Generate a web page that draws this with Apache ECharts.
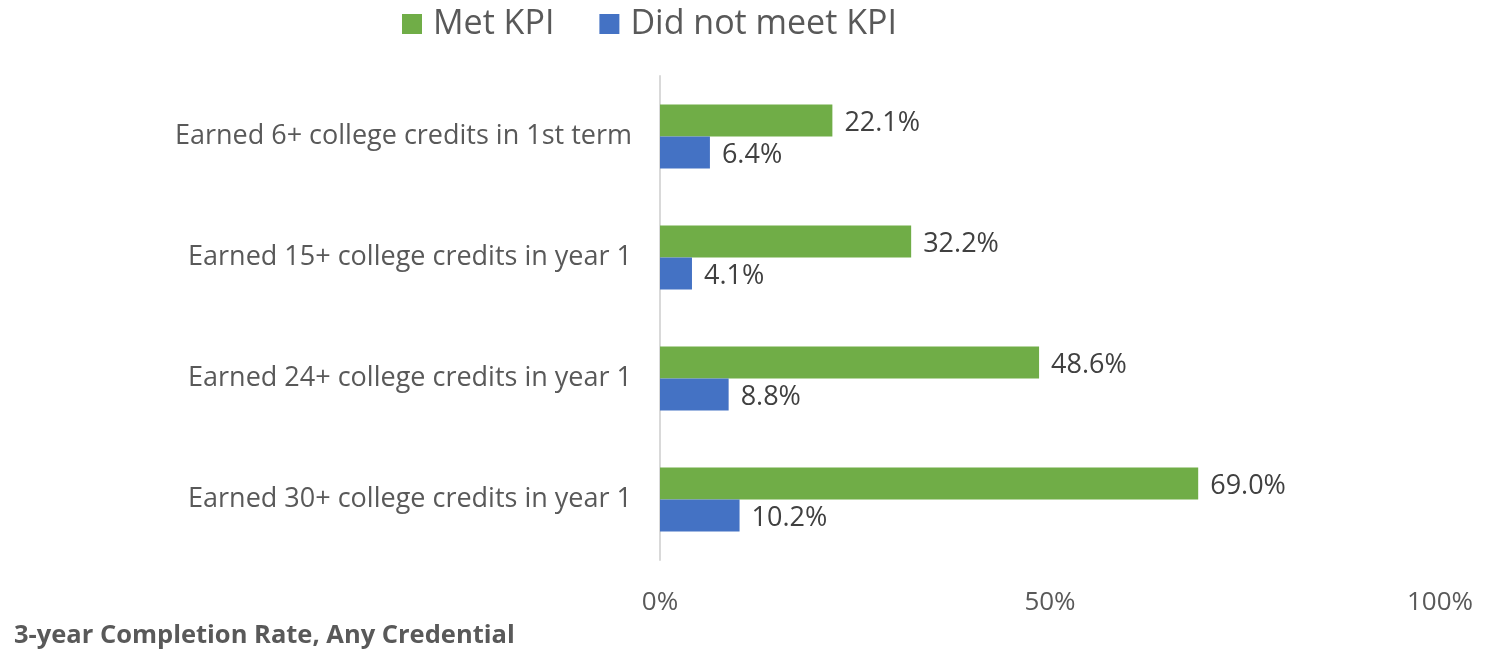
<!DOCTYPE html>
<html>
<head>
<meta charset="utf-8">
<script src="https://cdn.jsdelivr.net/npm/echarts@6/dist/echarts.min.js"></script>
<style>
  html, body { margin: 0; padding: 0; background: #fff; }
  #echart { width: 1485px; height: 654px; }
</style>
</head>
<body>
<div id="echart"></div>
<script>
// categories top to bottom
var categories = [
  'Earned 6+ college credits in 1st term',
  'Earned 15+ college credits in year 1',
  'Earned 24+ college credits in year 1',
  'Earned 30+ college credits in year 1'
];
var metKpi = [22.1, 32.2, 48.6, 69.0];
var didNotMeetKpi = [6.4, 4.1, 8.8, 10.2];
var xTicks = [0, 50, 100];
var chartTitle = '3-year Completion Rate, Any Credential';

var font = '"Open Sans", sans-serif';

var myChart = echarts.init(document.getElementById('echart'));

var labelOpt = {
  show: true,
  position: 'right',
  distance: 12,
  offset: [0, 3],
  color: '#404040',
  fontFamily: font,
  fontSize: 27,
  formatter: function (p) { return p.value.toFixed(1) + '%'; }
};

myChart.setOption({
  animation: false,
  title: {
    text: chartTitle,
    left: 9,
    bottom: 0,
    textStyle: { color: '#595959', fontFamily: font, fontSize: 25.5, fontWeight: 'bold' }
  },
  legend: {
    top: 2,
    left: 397,
    itemWidth: 20,
    itemHeight: 20,
    itemGap: 45,
    icon: 'rect',
    textStyle: { color: '#595959', fontFamily: font, fontSize: 34, padding: [0, 0, 0, 6] },
    data: ['Met KPI', 'Did not meet KPI']
  },
  grid: { left: 660, right: 45, top: 76, bottom: 94 },
  xAxis: {
    type: 'value',
    min: 0,
    max: 100,
    interval: 50,
    splitLine: { show: false },
    axisLine: { show: false },
    axisTick: { show: false },
    axisLabel: {
      color: '#595959',
      fontFamily: font,
      fontSize: 26,
      margin: 30,
      formatter: function (v) { return xTicks.indexOf(v) >= 0 ? v + '%' : ''; }
    }
  },
  yAxis: {
    type: 'category',
    inverse: true,
    data: categories,
    axisLine: { show: true, lineStyle: { color: '#d9d9d9', width: 2 } },
    axisTick: { show: false },
    axisLabel: { color: '#595959', fontFamily: font, fontSize: 27, margin: 28 }
  },
  series: [
    {
      name: 'Met KPI',
      type: 'bar',
      data: metKpi,
      barWidth: 32,
      barGap: '0%',
      itemStyle: { color: '#70AD47' },
      label: labelOpt
    },
    {
      name: 'Did not meet KPI',
      type: 'bar',
      data: didNotMeetKpi,
      barWidth: 32,
      barGap: '0%',
      itemStyle: { color: '#4472C4' },
      label: labelOpt
    }
  ]
});
</script>
</body>
</html>
